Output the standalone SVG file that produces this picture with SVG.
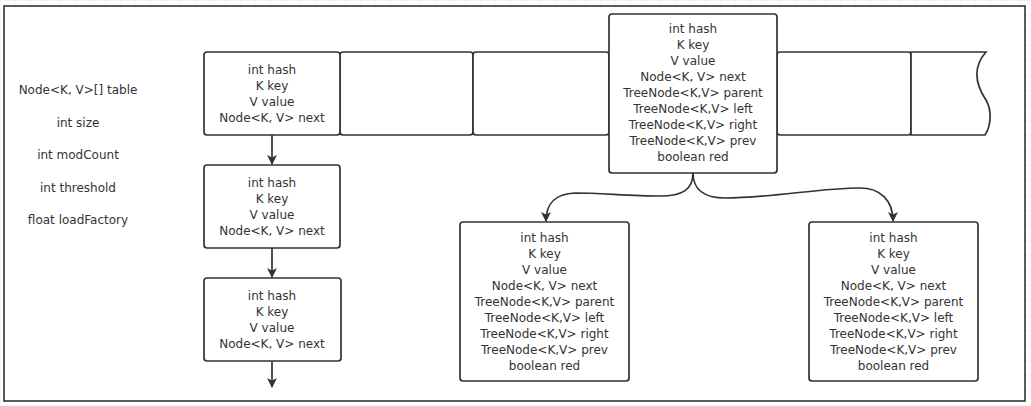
<svg xmlns="http://www.w3.org/2000/svg" width="1031" height="406" viewBox="0 0 1031 406">
<style>
.box{fill:#fff;stroke:#333;stroke-width:1.7}
.t{font-family:"DejaVu Sans","Noto Sans",sans-serif;font-size:12px;fill:#333;text-anchor:middle}
.e{fill:none;stroke:#333;stroke-width:1.7}
</style>
<defs>
<pattern id="grid" width="15" height="15" patternUnits="userSpaceOnUse">
<path d="M15 0H0V15" fill="none" stroke="#ececec" stroke-width="1"/>
</pattern>
<marker id="arr" viewBox="0 0 10 10" refX="9" refY="5" markerWidth="10" markerHeight="10" markerUnits="userSpaceOnUse" orient="auto">
<path d="M0 0L10 5L0 10L2.5 5Z" fill="#333"/>
</marker>
</defs>
<rect width="1031" height="406" fill="url(#grid)"/>
<rect x="4" y="6" width="1021" height="395" fill="#fff" stroke="#333" stroke-width="1.6"/>

<g id="fields">
<text class="t" x="78" y="94">Node&lt;K, V&gt;[] table</text>
<text class="t" x="78" y="127">int size</text>
<text class="t" x="78" y="159">int modCount</text>
<text class="t" x="78" y="192">int threshold</text>
<text class="t" x="78" y="224">float loadFactory</text>
</g>

<g id="cell2"><rect class="box" x="340" y="52" width="133" height="83" rx="3"/></g>
<g id="cell3"><rect class="box" x="473" y="52" width="136" height="83" rx="3"/></g>
<g id="cell4"><rect class="box" x="777" y="52" width="134" height="83" rx="3"/></g>
<g id="cell5"><path class="box" d="M911 52H986C970 70 978 88 986 100C993 112 990 128 985 135H911Z"/></g>

<g id="node1">
<rect class="box" x="204" y="52" width="136" height="83" rx="3"/>
<text class="t" x="272" y="74">int hash</text>
<text class="t" x="272" y="90">K key</text>
<text class="t" x="272" y="106">V value</text>
<text class="t" x="272" y="122">Node&lt;K, V&gt; next</text>
</g>
<g id="node2">
<rect class="box" x="204" y="165" width="136" height="83" rx="3"/>
<text class="t" x="272" y="187">int hash</text>
<text class="t" x="272" y="203">K key</text>
<text class="t" x="272" y="219">V value</text>
<text class="t" x="272" y="235">Node&lt;K, V&gt; next</text>
</g>
<g id="node3">
<rect class="box" x="204" y="278" width="137" height="83" rx="3"/>
<text class="t" x="272" y="300">int hash</text>
<text class="t" x="272" y="316">K key</text>
<text class="t" x="272" y="332">V value</text>
<text class="t" x="272" y="348">Node&lt;K, V&gt; next</text>
</g>

<g id="tree-root">
<rect class="box" x="609" y="14" width="168" height="159" rx="3"/>
<text class="t" x="693" y="33">int hash</text>
<text class="t" x="693" y="49">K key</text>
<text class="t" x="693" y="65">V value</text>
<text class="t" x="693" y="81">Node&lt;K, V&gt; next</text>
<text class="t" x="693" y="97">TreeNode&lt;K,V&gt; parent</text>
<text class="t" x="693" y="113">TreeNode&lt;K,V&gt; left</text>
<text class="t" x="693" y="129">TreeNode&lt;K,V&gt; right</text>
<text class="t" x="693" y="145">TreeNode&lt;K,V&gt; prev</text>
<text class="t" x="693" y="161">boolean red</text>
</g>
<g id="tree-left">
<rect class="box" x="460" y="222" width="169" height="159" rx="3"/>
<text class="t" x="544.5" y="242">int hash</text>
<text class="t" x="544.5" y="258">K key</text>
<text class="t" x="544.5" y="274">V value</text>
<text class="t" x="544.5" y="290">Node&lt;K, V&gt; next</text>
<text class="t" x="544.5" y="306">TreeNode&lt;K,V&gt; parent</text>
<text class="t" x="544.5" y="322">TreeNode&lt;K,V&gt; left</text>
<text class="t" x="544.5" y="338">TreeNode&lt;K,V&gt; right</text>
<text class="t" x="544.5" y="354">TreeNode&lt;K,V&gt; prev</text>
<text class="t" x="544.5" y="370">boolean red</text>
</g>
<g id="tree-right">
<rect class="box" x="809" y="222" width="169" height="159" rx="3"/>
<text class="t" x="893.5" y="242">int hash</text>
<text class="t" x="893.5" y="258">K key</text>
<text class="t" x="893.5" y="274">V value</text>
<text class="t" x="893.5" y="290">Node&lt;K, V&gt; next</text>
<text class="t" x="893.5" y="306">TreeNode&lt;K,V&gt; parent</text>
<text class="t" x="893.5" y="322">TreeNode&lt;K,V&gt; left</text>
<text class="t" x="893.5" y="338">TreeNode&lt;K,V&gt; right</text>
<text class="t" x="893.5" y="354">TreeNode&lt;K,V&gt; prev</text>
<text class="t" x="893.5" y="370">boolean red</text>
</g>

<g id="connectors">
<path class="e" d="M272 135V164" marker-end="url(#arr)"/>
<path class="e" d="M272 248V277" marker-end="url(#arr)"/>
<path class="e" d="M272 361V387" marker-end="url(#arr)"/>
<path class="e" d="M693 173C693 190 682 196 660 196C630 196 600 193 575 193C555 194 546 203 546 221" marker-end="url(#arr)"/>
<path class="e" d="M693 173C693 190 705 198 725 198C770 198 820 188 860 188C880 188 893 200 893 221" marker-end="url(#arr)"/>
</g>
</svg>
